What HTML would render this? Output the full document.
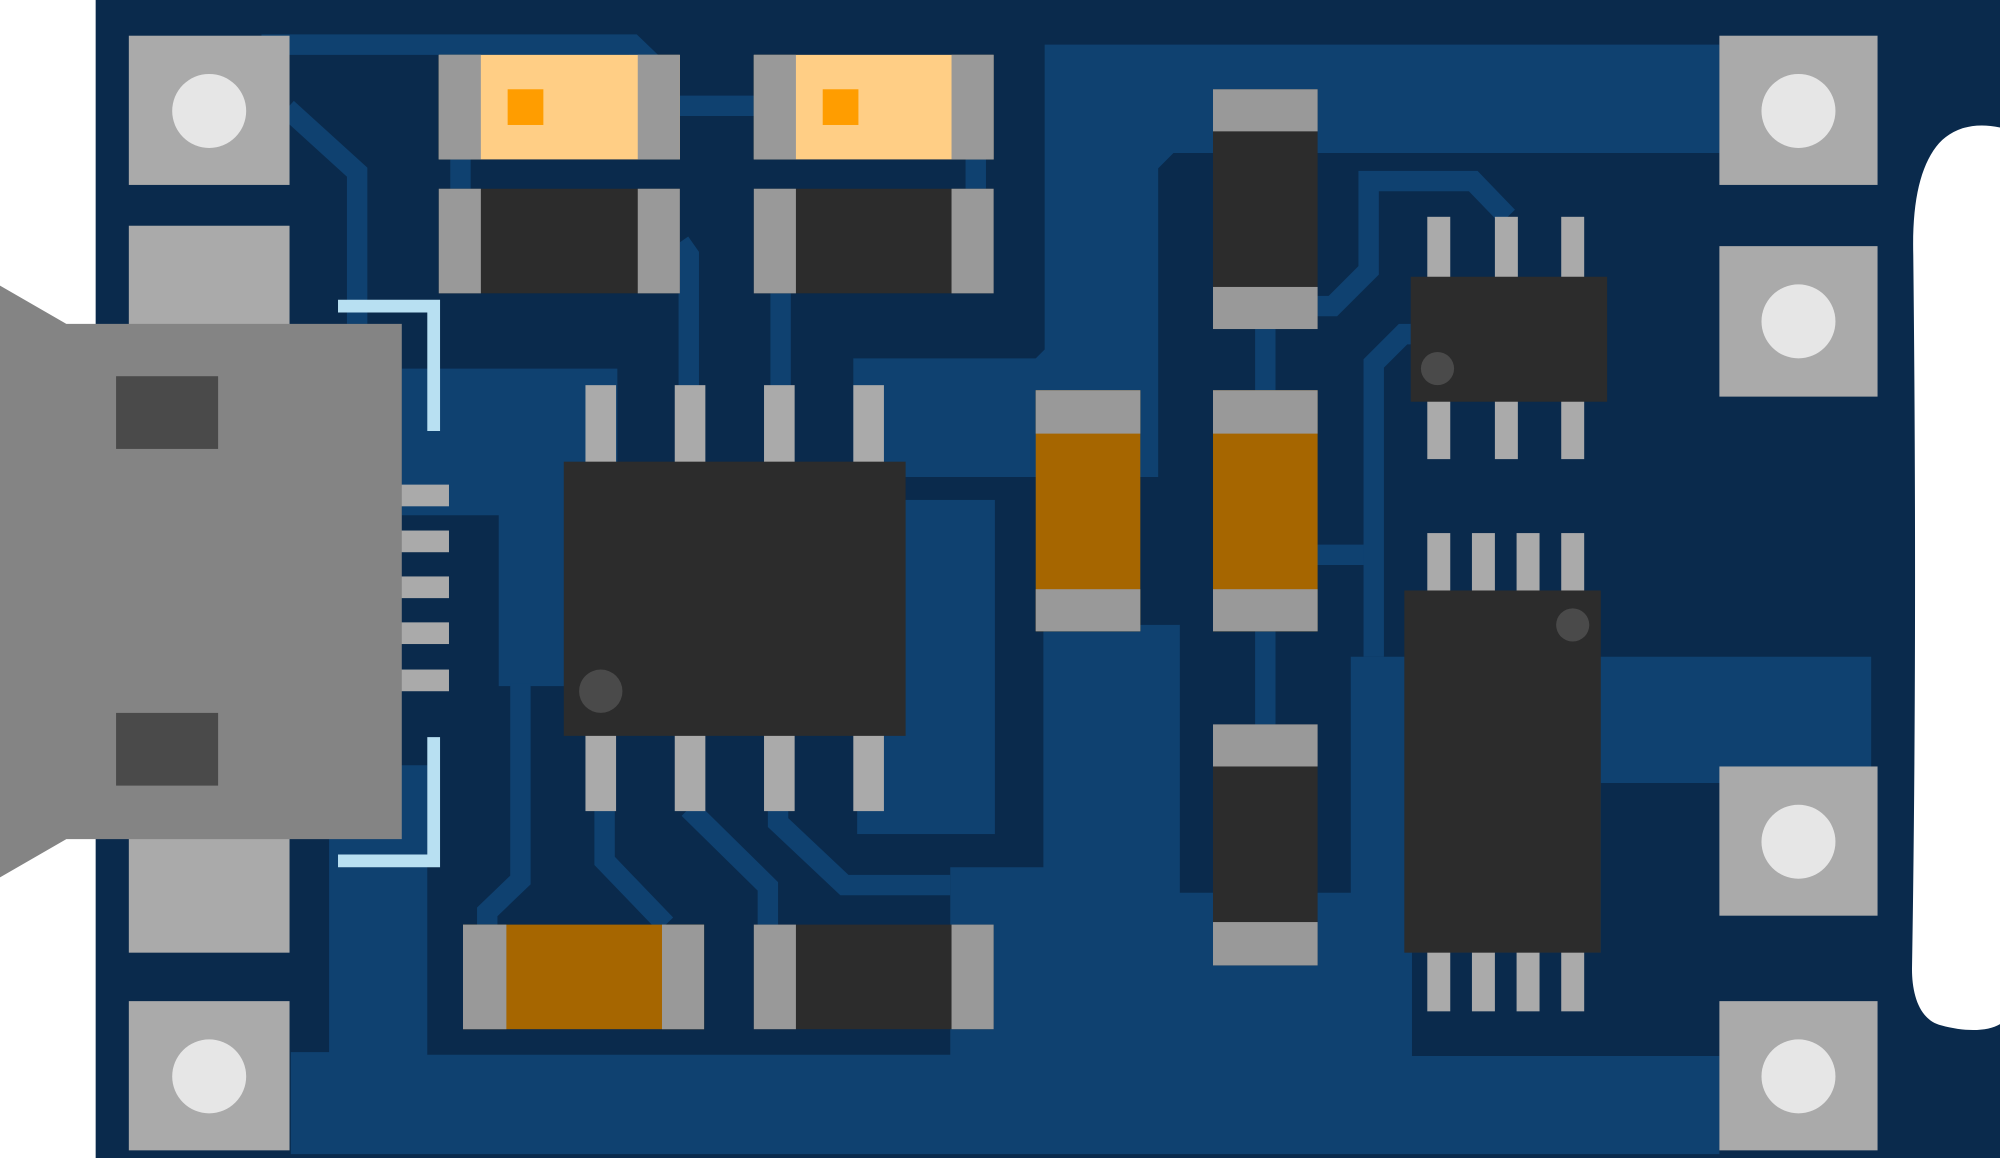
<!DOCTYPE html>
<html><head><style>html,body{margin:0;padding:0;background:#fff;overflow:hidden}svg{display:block}</style></head>
<body>
<svg width="2000" height="1158" viewBox="0 0 1568 908" preserveAspectRatio="none" xmlns="http://www.w3.org/2000/svg">
<rect x="0" y="0" width="1568" height="908" fill="#fff"/>
<rect x="75" y="0" width="1493" height="908" fill="#0a2a4c"/>
<!-- copper pours -->
<g fill="#0f4170">
<polygon points="819,35 1348,35 1348,120 920,120 908,132 908,374 669,374 669,281 812,281 819,274"/>
<rect x="672" y="392" width="108" height="262"/>
<polygon points="315,289 484,289 484,538 391,538 391,404 315,404"/>
<polygon points="228,905 228,825 258,825 258,600 335,600 335,827 745,827 745,680 818,680 818,490 925,490 925,700 1059,700 1059,515 1467,515 1467,614 1255,614 1255,747 1107,747 1107,828 1348,828 1348,905"/>
</g>
<!-- traces -->
<g fill="none" stroke="#0f4170" stroke-width="16">
<polyline points="205,35 496,35 520,58"/>
<line x1="533" y1="83" x2="591" y2="83"/>
<polyline points="225,85 280,135 280,254"/>
<line x1="361" y1="120" x2="361" y2="150"/>
<line x1="765" y1="120" x2="765" y2="150"/>
<polyline points="533,190 540,200 540,305"/>
<line x1="612" y1="228" x2="612" y2="305"/>
<polyline points="1030,240 1045,240 1073,212 1073,142 1155,142 1182,170"/>
<line x1="1030" y1="435" x2="1077" y2="435"/>
<polyline points="1077,515 1077,285 1100,262 1108,262"/>
<line x1="992" y1="255" x2="992" y2="308"/>
<line x1="992" y1="493" x2="992" y2="570"/>
<polyline points="474,634 474,675 522,725"/>
<polyline points="540,634 602,695 602,727"/>
<polyline points="610,634 610,645 662,694 745,694"/>
<polyline points="408,536 408,690 382,715 382,727"/>
</g>
<!-- right white cutout -->
<path d="M1568,100 C1545,95 1528,102 1518,115 C1505,132 1499,160 1500,200 C1502,380 1502,580 1499,760 C1499,780 1505,800 1522,804 C1540,809 1558,809 1568,803 Z" fill="#fff"/>
<!-- mounting pads -->
<g fill="#aaaaaa">
<rect x="101" y="28" width="126" height="117"/>
<rect x="101" y="177" width="126" height="90"/>
<rect x="101" y="645" width="126" height="102"/>
<rect x="101" y="785" width="126" height="117"/>
<rect x="1348" y="28" width="124" height="117"/>
<rect x="1348" y="193" width="124" height="118"/>
<rect x="1348" y="601" width="124" height="117"/>
<rect x="1348" y="785" width="124" height="117"/>
</g>
<g fill="#e6e6e6">
<circle cx="164" cy="87" r="29"/><circle cx="164" cy="844" r="29"/>
<circle cx="1410" cy="87" r="29"/><circle cx="1410" cy="252" r="29"/>
<circle cx="1410" cy="660" r="29"/><circle cx="1410" cy="844" r="29"/>
</g>
<!-- USB connector -->
<g fill="#aaaaaa">
<rect x="312" y="380" width="40" height="17"/><rect x="312" y="416" width="40" height="17"/>
<rect x="312" y="452" width="40" height="17"/><rect x="312" y="488" width="40" height="17"/>
<rect x="312" y="525" width="40" height="17"/>
</g>
<polygon points="0,224 52,254 315,254 315,658 52,658 0,688" fill="#848484"/>
<rect x="91" y="295" width="80" height="57" fill="#4a4a4a"/>
<rect x="91" y="559" width="80" height="57" fill="#4a4a4a"/>
<g fill="none" stroke="#b8e0f2" stroke-width="10">
<polyline points="265,240 340,240 340,338"/>
<polyline points="340,578 340,675 265,675"/>
</g>
<!-- LEDs -->
<g>
<rect x="344" y="43" width="189" height="82" fill="#ffce85"/>
<rect x="344" y="43" width="33" height="82" fill="#999"/><rect x="500" y="43" width="33" height="82" fill="#999"/>
<rect x="398" y="70" width="28" height="28" fill="#ff9d00"/>
<rect x="591" y="43" width="188" height="82" fill="#ffce85"/>
<rect x="591" y="43" width="33" height="82" fill="#999"/><rect x="746" y="43" width="33" height="82" fill="#999"/>
<rect x="645" y="70" width="28" height="28" fill="#ff9d00"/>
</g>
<!-- horizontal resistors/caps -->
<g>
<rect x="344" y="148" width="189" height="82" fill="#2c2c2c"/>
<rect x="344" y="148" width="33" height="82" fill="#999"/><rect x="500" y="148" width="33" height="82" fill="#999"/>
<rect x="591" y="148" width="188" height="82" fill="#2c2c2c"/>
<rect x="591" y="148" width="33" height="82" fill="#999"/><rect x="746" y="148" width="33" height="82" fill="#999"/>
<rect x="363" y="725" width="189" height="82" fill="#a66600"/>
<rect x="363" y="725" width="34" height="82" fill="#999"/><rect x="519" y="725" width="33" height="82" fill="#999"/>
<rect x="591" y="725" width="188" height="82" fill="#2c2c2c"/>
<rect x="591" y="725" width="33" height="82" fill="#999"/><rect x="746" y="725" width="33" height="82" fill="#999"/>
</g>
<!-- main IC -->
<g fill="#aaaaaa">
<rect x="459" y="302" width="24" height="62"/><rect x="529" y="302" width="24" height="62"/>
<rect x="599" y="302" width="24" height="62"/><rect x="669" y="302" width="24" height="62"/>
<rect x="459" y="575" width="24" height="61"/><rect x="529" y="575" width="24" height="61"/>
<rect x="599" y="575" width="24" height="61"/><rect x="669" y="575" width="24" height="61"/>
</g>
<rect x="442" y="362" width="268" height="215" fill="#2c2c2c"/>
<circle cx="471" cy="542" r="17" fill="#4a4a4a"/>
<!-- vertical components -->
<g>
<rect x="812" y="306" width="82" height="189" fill="#a66600"/>
<rect x="812" y="306" width="82" height="34" fill="#999"/><rect x="812" y="462" width="82" height="33" fill="#999"/>
<rect x="951" y="306" width="82" height="189" fill="#a66600"/>
<rect x="951" y="306" width="82" height="34" fill="#999"/><rect x="951" y="462" width="82" height="33" fill="#999"/>
<rect x="951" y="70" width="82" height="188" fill="#2c2c2c"/>
<rect x="951" y="70" width="82" height="33" fill="#999"/><rect x="951" y="225" width="82" height="33" fill="#999"/>
<rect x="951" y="568" width="82" height="189" fill="#2c2c2c"/>
<rect x="951" y="568" width="82" height="33" fill="#999"/><rect x="951" y="723" width="82" height="34" fill="#999"/>
</g>
<!-- small IC -->
<g fill="#aaaaaa">
<rect x="1119" y="170" width="18" height="50"/><rect x="1172" y="170" width="18" height="50"/><rect x="1224" y="170" width="18" height="50"/>
<rect x="1119" y="312" width="18" height="48"/><rect x="1172" y="312" width="18" height="48"/><rect x="1224" y="312" width="18" height="48"/>
</g>
<rect x="1106" y="217" width="154" height="98" fill="#2c2c2c"/>
<circle cx="1127" cy="289" r="13" fill="#4a4a4a"/>
<!-- big IC -->
<g fill="#aaaaaa">
<rect x="1119" y="418" width="18" height="48"/><rect x="1154" y="418" width="18" height="48"/><rect x="1189" y="418" width="18" height="48"/><rect x="1224" y="418" width="18" height="48"/>
<rect x="1119" y="744" width="18" height="49"/><rect x="1154" y="744" width="18" height="49"/><rect x="1189" y="744" width="18" height="49"/><rect x="1224" y="744" width="18" height="49"/>
</g>
<rect x="1101" y="463" width="154" height="284" fill="#2c2c2c"/>
<circle cx="1233" cy="490" r="13" fill="#4a4a4a"/>
</svg>
</body></html>
